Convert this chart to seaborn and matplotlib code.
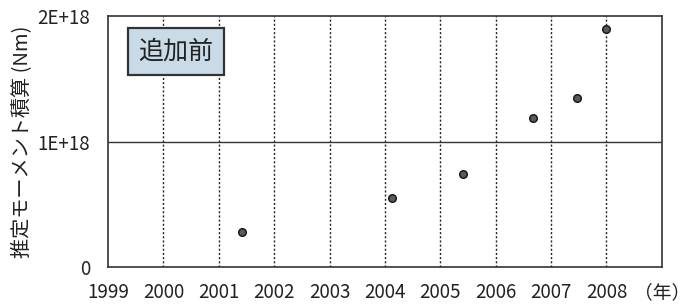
import numpy as np
import pandas as pd
import matplotlib
matplotlib.use("Agg")
import matplotlib.pyplot as plt
import seaborn as sns

# values
years = [2001.42, 2004.13, 2005.41, 2006.67, 2007.47, 2008.0]
moment_sum = [0.28e18, 0.55e18, 0.74e18, 1.19e18, 1.35e18, 1.90e18]
x_ticks = [1999, 2000, 2001, 2002, 2003, 2004, 2005, 2006, 2007, 2008, 2009]
x_tick_labels = ["1999", "2000", "2001", "2002", "2003", "2004", "2005",
                 "2006", "2007", "2008", "（年）"]
y_ticks = [0, 1e18, 2e18]
y_tick_labels = ["0", "1E+18", "2E+18"]

df = pd.DataFrame({"year": years, "moment": moment_sum})

sns.set_style("white")
plt.rcParams["font.family"] = ["Noto Sans CJK JP", "DejaVu Sans"]

fig = plt.figure(figsize=(6.93, 3.07), dpi=100)
ax = fig.add_axes([0.156, 0.130, 0.799, 0.818])

for x in x_ticks[1:-1]:
    ax.axvline(x, color="#222222", lw=1.0, ls=(0, (1.5, 1.5)), zorder=1)
ax.axhline(1e18, color="#333333", lw=1.0, zorder=1)

sns.scatterplot(data=df, x="year", y="moment", ax=ax, s=30,
                color="#5a5a5a", edgecolor="#111111", linewidth=1.0, zorder=3)

ax.set_xlim(1999, 2009)
ax.set_ylim(0, 2e18)
ax.set_xticks(x_ticks)
ax.set_xticklabels(x_tick_labels, fontsize=13.5, color="#222222")
ax.set_yticks(y_ticks)
ax.set_yticklabels(y_tick_labels, fontsize=13.5, color="#222222")
ax.tick_params(axis="x", length=0, pad=11)
ax.tick_params(axis="y", length=0, pad=13)
ax.set_xlabel("")
ax.set_ylabel("推定モーメント積算 (Nm)", fontsize=14.5, color="#222222", labelpad=4)

for side in ["left", "right", "top", "bottom"]:
    ax.spines[side].set_color("#333333")
    ax.spines[side].set_linewidth(1.2)

ax.text(0.054, 0.86, "追加前", transform=ax.transAxes, fontsize=18,
        color="#222222", ha="left", va="center",
        bbox=dict(boxstyle="square,pad=0.42", facecolor="#c8dbe6",
                  edgecolor="#333333", linewidth=1.6))

fig.savefig("out.png", dpi=100)
